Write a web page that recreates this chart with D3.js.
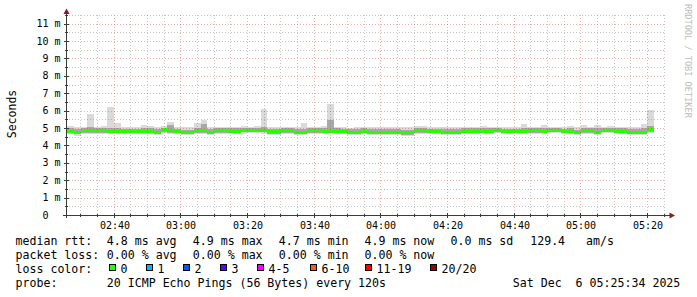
<!DOCTYPE html>
<html><head><meta charset="utf-8">
<script src="https://cdn.jsdelivr.net/npm/d3@7"></script>
<style>html,body{margin:0;padding:0;background:#fff;}svg{display:block;}text{white-space:pre;}</style>
</head><body><svg id="c" width="697" height="297"></svg>
<script>
// ---------- data ----------
const startTime = new Date(2025, 11, 6, 2, 25, 34);
const endTime = new Date(2025, 11, 6, 5, 25, 34);
const firstSample = new Date(2025, 11, 6, 2, 26, 0);
const stepSeconds = 120;

const median = [
  4.83,4.83,4.77,4.87,4.87,4.86,4.84,4.83,4.83,4.81,
  4.80,4.80,4.83,4.83,4.76,4.90,4.84,4.80,4.72,4.72,
  4.84,4.84,4.77,4.84,4.84,4.82,4.82,4.87,4.87,4.88,
  4.88,4.78,4.78,4.84,4.84,4.76,4.76,4.84,4.84,4.80,
  4.80,4.82,4.82,4.75,4.75,4.82,4.76,4.76,4.75,4.75,
  4.75,4.72,4.72,4.84,4.84,4.80,4.80,4.77,4.77,4.77,
  4.83,4.83,4.80,4.80,4.80,4.87,4.80,4.80,4.80,4.81,
  4.84,4.84,4.83,4.87,4.87,4.81,4.81,4.74,4.84,4.84,
  4.74,4.87,4.87,4.83,4.83,4.77,4.77,4.77,4.90];
const pingMax = [
  5.14,5.14,5.04,5.08,5.81,5.06,5.10,6.23,5.31,5.08,
  5.06,5.04,5.19,5.12,5.04,5.12,5.35,5.08,5.06,5.04,
  5.29,5.46,5.07,5.08,5.08,5.06,5.06,5.10,5.08,5.12,
  6.09,5.05,5.04,5.06,5.06,5.04,5.31,5.06,5.04,5.12,
  6.38,5.06,5.04,5.03,5.06,5.07,5.06,5.08,5.06,5.06,
  5.08,5.04,5.05,5.14,5.14,5.06,5.04,5.06,5.08,5.06,
  5.08,5.06,5.08,5.09,5.08,5.06,5.08,5.04,5.05,5.25,
  5.06,5.08,5.18,5.06,5.04,5.06,5.12,5.06,5.20,5.06,
  5.20,5.07,5.10,5.06,5.08,5.04,5.04,5.25,6.04];
const pingHigh = [
  4.99,4.99,4.93,5.01,5.05,4.99,5.01,5.03,5.01,4.97,
  4.96,4.96,5.01,5.00,4.93,5.03,5.20,4.97,4.91,4.89,
  5.03,5.25,4.95,5.00,5.00,4.98,4.98,5.01,5.01,5.03,
  5.05,4.97,4.95,4.99,4.99,4.93,4.95,4.99,4.99,4.99,
  5.45,4.98,4.97,4.93,4.93,4.98,4.95,4.96,4.93,4.93,
  4.95,4.91,4.91,5.01,5.01,4.97,4.96,4.95,4.97,4.95,
  4.99,4.98,4.98,4.99,4.99,5.01,4.97,4.96,4.96,5.03,
  4.99,5.00,5.03,5.01,5.00,4.97,4.99,4.91,5.01,4.99,
  4.99,5.01,5.01,4.99,5.00,4.95,4.93,4.99,5.12];
const pingLow = [
  4.70,4.70,4.64,4.74,4.74,4.73,4.70,4.72,4.70,4.70,
  4.71,4.69,4.72,4.73,4.66,4.76,4.72,4.69,4.63,4.63,
  4.72,4.73,4.66,4.74,4.72,4.70,4.72,4.75,4.76,4.76,
  4.75,4.66,4.65,4.72,4.73,4.65,4.66,4.72,4.73,4.69,
  4.69,4.71,4.72,4.65,4.64,4.71,4.65,4.66,4.64,4.65,
  4.64,4.62,4.62,4.73,4.73,4.69,4.69,4.67,4.65,4.66,
  4.72,4.73,4.69,4.69,4.70,4.76,4.69,4.69,4.70,4.69,
  4.73,4.73,4.73,4.76,4.76,4.70,4.71,4.64,4.73,4.73,
  4.64,4.76,4.76,4.73,4.73,4.66,4.65,4.66,4.78];
const pingMin = [
  4.64,4.64,4.56,4.67,4.68,4.66,4.64,4.66,4.64,4.64,
  4.66,4.64,4.66,4.68,4.61,4.70,4.66,4.64,4.58,4.58,
  4.66,4.68,4.61,4.68,4.66,4.64,4.66,4.68,4.70,4.70,
  4.68,4.60,4.59,4.66,4.68,4.59,4.60,4.66,4.68,4.64,
  4.64,4.66,4.68,4.60,4.59,4.66,4.59,4.61,4.59,4.61,
  4.59,4.57,4.57,4.68,4.68,4.64,4.64,4.62,4.60,4.61,
  4.66,4.68,4.64,4.64,4.66,4.70,4.64,4.64,4.66,4.64,
  4.68,4.68,4.68,4.70,4.70,4.64,4.66,4.59,4.68,4.68,
  4.58,4.70,4.70,4.68,4.68,4.61,4.60,4.61,4.72];

const yTickValues = [0,1,2,3,4,5,6,7,8,9,10,11];
const yUnit = "m";
const yLabel = "Seconds";
const watermark = "RRDTOOL / TOBI OETIKER";

const legendRtt = ["median rtt:", "4.8 ms avg", "4.9 ms max", "4.7 ms min", "4.9 ms now", "0.0 ms sd", "129.4   am/s"];
const legendLoss = ["packet loss:", "0.00 % avg", "0.00 % max", "0.00 % min", "0.00 % now"];
const lossTitle = "loss color:";
const lossLabels = ["0", "1", "2", "3", "4-5", "6-10", "11-19", "20/20"];
const lossColors = ["#26ff00", "#00b8ff", "#0059ff", "#5e00ff", "#ff00ff", "#ff5e00", "#ff0000", "#a10000"];
const probeTitle = "probe:";
const probeText = "20 ICMP Echo Pings (56 Bytes) every 120s";
const stampText = "Sat Dec  6 05:25:34 2025";
const sampleLoss = median.map(() => 0); // loss count per step, all zero

// ---------- drawing ----------
const svg = d3.select("#c");
const mono = "'DejaVu Sans Mono', monospace";
const x = d3.scaleTime().domain([startTime, endTime]).range([66, 666]);
const y = d3.scaleLinear().domain([0, 11.5]).range([215, 15]);
const px = v => Math.floor(v) + 0.5;
const py = v => Math.round(v) + 0.5;

const steps = median.map((m, i) => {
  const t = new Date(firstSample.getTime() + i * stepSeconds * 1000);
  const t0 = new Date(Math.max(t.getTime() - stepSeconds * 1000, startTime.getTime()));
  return {i, t0, t, m};
});

const gData = svg.append("g").attr("shape-rendering", "crispEdges");
gData.selectAll("rect.outer").data(steps).join("rect")
  .attr("x", d => x(d.t0)).attr("width", d => x(d.t) - x(d.t0))
  .attr("y", d => y(pingMax[d.i])).attr("height", d => y(pingMin[d.i]) - y(pingMax[d.i]))
  .attr("fill", "#dadada");
gData.selectAll("rect.inner").data(steps).join("rect")
  .attr("x", d => x(d.t0)).attr("width", d => x(d.t) - x(d.t0))
  .attr("y", d => y(pingHigh[d.i])).attr("height", d => y(pingLow[d.i]) - y(pingHigh[d.i]))
  .attr("fill", "#a8a8a8");
gData.selectAll("rect.med").data(steps).join("rect")
  .attr("x", d => x(d.t0)).attr("width", d => x(d.t) - x(d.t0))
  .attr("y", d => y(d.m) - 1.5).attr("height", 3)
  .attr("fill", d => lossColors[sampleLoss[d.i]]);

// grid
const gGrid = svg.append("g").attr("shape-rendering", "crispEdges").attr("stroke-dasharray", "1,2");
const minorColor = "rgba(120,120,120,0.42)";
const majorColor = "rgba(225,70,70,0.45)";
const majorTimes = d3.timeMinute.every(20).range(startTime, endTime);
const minorTimes = d3.timeMinute.every(5).range(startTime, endTime).filter(t => t.getMinutes() % 20 !== 0);
gGrid.selectAll("line.vmin").data(minorTimes).join("line")
  .attr("x1", d => px(x(d))).attr("x2", d => px(x(d))).attr("y1", 15).attr("y2", 215)
  .attr("stroke", minorColor);
const hMinor = d3.range(0.5, 11.6, 1);
gGrid.selectAll("line.hmin").data(hMinor).join("line")
  .attr("x1", 66).attr("x2", 666).attr("y1", d => py(y(d))).attr("y2", d => py(y(d)))
  .attr("stroke", minorColor);
gGrid.selectAll("line.vmaj").data(majorTimes).join("line")
  .attr("x1", d => px(x(d))).attr("x2", d => px(x(d))).attr("y1", 15).attr("y2", 215)
  .attr("stroke", majorColor);
gGrid.selectAll("line.hmaj").data(yTickValues.filter(v => v > 0)).join("line")
  .attr("x1", 66).attr("x2", 666).attr("y1", d => py(y(d))).attr("y2", d => py(y(d)))
  .attr("stroke", majorColor);

// axes
const axisColor = "#3a3a3a";
const gAx = svg.append("g").attr("shape-rendering", "crispEdges");
gAx.append("line").attr("x1", 63).attr("x2", 670).attr("y1", py(y(0))).attr("y2", py(y(0))).attr("stroke", axisColor);
gAx.append("line").attr("x1", px(x(startTime))).attr("x2", px(x(startTime))).attr("y1", 12).attr("y2", 218).attr("stroke", axisColor);
gAx.selectAll("line.ytk").data(yTickValues.filter(v => v > 0)).join("line")
  .attr("x1", 64).attr("x2", 69).attr("y1", d => py(y(d))).attr("y2", d => py(y(d))).attr("stroke", axisColor);
gAx.selectAll("line.ytm").data(hMinor).join("line")
  .attr("x1", 65).attr("x2", 68).attr("y1", d => py(y(d))).attr("y2", d => py(y(d))).attr("stroke", axisColor);
gAx.selectAll("line.xtk").data(majorTimes).join("line")
  .attr("x1", d => px(x(d))).attr("x2", d => px(x(d))).attr("y1", 213).attr("y2", 218).attr("stroke", axisColor);
gAx.selectAll("line.xtm").data(minorTimes).join("line")
  .attr("x1", d => px(x(d))).attr("x2", d => px(x(d))).attr("y1", 214).attr("y2", 217).attr("stroke", axisColor);
const arrowColor = "#8b1a1a";
svg.append("path").attr("d", "M66.5,8.5 L69.5,14 L63.5,14 Z").attr("fill", arrowColor);
svg.append("path").attr("d", "M675,215.5 L669.5,212.5 L669.5,218.5 Z").attr("fill", arrowColor);

// y labels
svg.selectAll("text.yl").data(yTickValues).join("text")
  .attr("x", 60.5).attr("y", d => y(d) + 3.6)
  .attr("text-anchor", "end").attr("font-family", mono).attr("font-size", "10px").attr("fill", "#000")
  .text(d => `${d} ${d === 0 ? " " : yUnit}`);
const fmt = d3.timeFormat("%H:%M");
svg.selectAll("text.xl").data(majorTimes).join("text")
  .attr("x", d => px(x(d)) + 0.5).attr("y", 229)
  .attr("text-anchor", "middle").attr("font-family", mono).attr("font-size", "10px").attr("fill", "#000")
  .text(d => fmt(d));
svg.append("text").attr("transform", "translate(15.5,114) rotate(-90)")
  .attr("text-anchor", "middle").attr("font-family", mono).attr("font-size", "11.5px").attr("fill", "#000")
  .text(yLabel);
svg.append("text").attr("transform", "translate(684.5,4) rotate(90)")
  .attr("font-family", mono).attr("font-size", "8.6px").attr("fill", "#bdbdbd")
  .text(watermark);

// legend
const lf = "11.6px";
function txt(xp, yp, s) {
  svg.append("text").attr("x", xp).attr("y", yp).attr("font-family", mono).attr("font-size", lf).attr("fill", "#000").text(s);
}
const colX = [15.5, 106.8, 192.8, 278.8, 364.5, 450.5, 530.2];
legendRtt.forEach((s, i) => txt(colX[i], 245, s));
legendLoss.forEach((s, i) => txt(colX[i], 259, s));
txt(colX[0], 273, lossTitle);
const boxX = [109, 146, 183, 220, 257, 310, 365, 430];
lossLabels.forEach((s, i) => {
  svg.append("rect").attr("x", boxX[i] + 0.5).attr("y", 264.5).attr("width", 6).attr("height", 6)
    .attr("fill", lossColors[i]).attr("stroke", "#000").attr("stroke-width", 1).attr("shape-rendering", "crispEdges");
  txt(boxX[i] + 11.5, 273, s);
});
txt(colX[0], 287, probeTitle);
txt(colX[1], 287, probeText);
txt(512.8, 287, stampText);
</script></body></html>
